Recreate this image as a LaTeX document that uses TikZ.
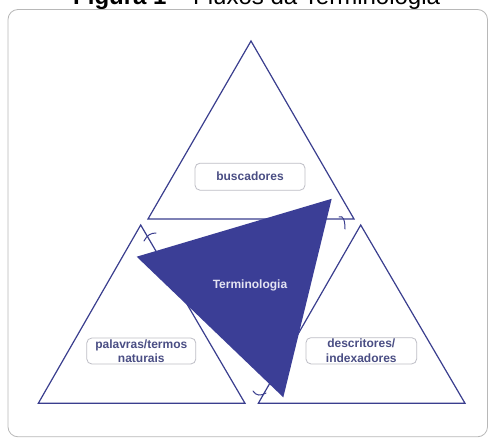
\documentclass[tikz,border=0pt]{standalone}
\usepackage{fontspec}
\setmainfont{Liberation Sans}
\definecolor{navy}{HTML}{3A3E8E}
\definecolor{darkfill}{HTML}{3B3E96}
\definecolor{boxtext}{HTML}{4A4E84}
\definecolor{boxline}{HTML}{BEBEC6}
\definecolor{framecol}{HTML}{B8B8B8}
\definecolor{termtext}{HTML}{E4E4F2}
\begin{document}
\begin{tikzpicture}[x=1pt,y=-1pt,
  tri/.style={draw=navy,line width=1.2pt,line join=miter},
  lbl/.style={draw=boxline,rounded corners=5pt,line width=0.8pt,fill=white,
    text=boxtext,font=\bfseries\fontsize{12}{14.4}\selectfont,align=center,inner sep=0pt},
  flowmark/.style={draw=navy,line width=1pt,line cap=round}]
\useasboundingbox (0,0) rectangle (489,438);
% title (cut off at the top)
\node[anchor=base west,font=\fontsize{24}{28}\selectfont,inner sep=0pt] (title) at (73,4.5)
  {\textbf{Figura 1} – Fluxos da Terminologia};
% frame
\draw[framecol,line width=0.8pt,rounded corners=10pt,fill=white] (8,9.5) rectangle (487.5,436.8);
% triangles
\coordinate (tA) at (251,41);  \coordinate (tB) at (148,219);  \coordinate (tC) at (354,219);
\coordinate (lA) at (140.7,225); \coordinate (lB) at (38.3,403.3); \coordinate (lC) at (245,403.3);
\coordinate (rA) at (360.7,225); \coordinate (rB) at (258.3,403.3); \coordinate (rC) at (465,403.3);
\draw[tri] (tA) -- (tB) -- (tC) -- cycle;
\draw[tri] (lA) -- (lB) -- (lC) -- cycle;
\draw[tri] (rA) -- (rB) -- (rC) -- cycle;
% label boxes
\node[lbl,minimum width=110pt,minimum height=27pt] (busc) at (250,176.7) {buscadores};
\node[lbl,minimum width=109pt,minimum height=26pt] (pal) at (141.3,351) {palavras/termos\\naturais};
\node[lbl,minimum width=110.7pt,minimum height=26.3pt] (desc) at (361.3,350.8) {descritores/\\indexadores};
% central dark triangle
\coordinate (dA) at (136.7,256.7); \coordinate (dB) at (331.7,198.8); \coordinate (dC) at (283.3,397.3);
\fill[darkfill] (dA) -- (dB) -- (dC) -- cycle;
\node[text=termtext,font=\bfseries\fontsize{12}{14.4}\selectfont] (term) at (250,285) {Terminologia};
% flow marks
\draw[flowmark] (339,217) .. controls (343,215) and (345,220) .. (345,229);
\draw[flowmark] (144,241) .. controls (147,235) and (151,233) .. (156,233);
\draw[flowmark] (253,391) .. controls (256,396) and (261,396) .. (266,393);
\end{tikzpicture}
\end{document}
